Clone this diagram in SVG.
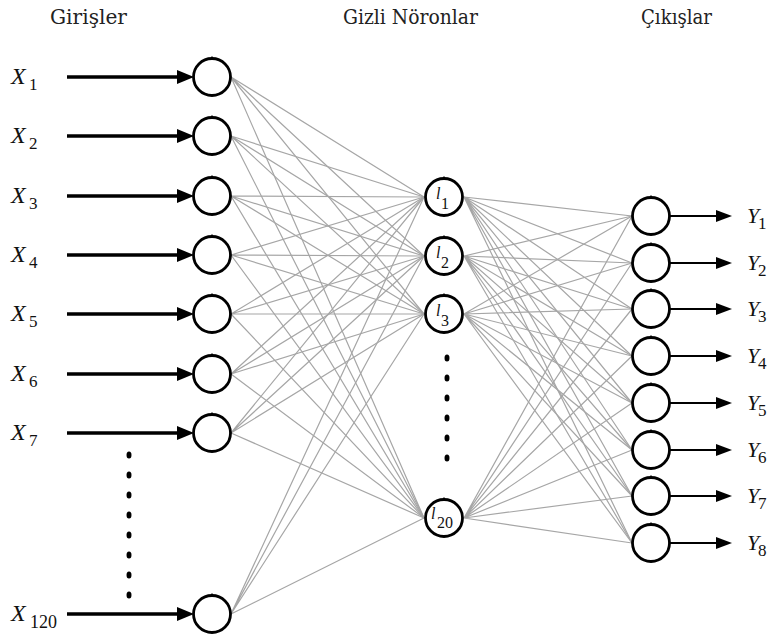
<svg xmlns="http://www.w3.org/2000/svg" width="774" height="640" viewBox="0 0 774 640">
  <style>
    text { font-family: 'Liberation Serif', 'Times New Roman', serif; fill: #111; }
    .title { font-family: 'DejaVu Serif', 'Liberation Serif', serif; font-size: 20px; fill: #222; }
    .it { font-style: italic; }
    .big { font-size: 24px; }
    .ysym { font-size: 22px; }
    .sub { font-size: 17px; }
    .hl { font-size: 16px; }
    .node { fill: #fff; stroke: #000; stroke-width: 2.8; }
    .tick { stroke: #000; stroke-width: 1.5; }
    .link { fill: none; stroke: #a6a6a6; stroke-width: 1.2; }
    .inarrow { stroke: #000; stroke-width: 3.5; marker-end: url(#headIn); }
    .outarrow { stroke: #000; stroke-width: 1.8; marker-end: url(#headOut); }
    .dot { fill: #000; }
  </style>
  <defs>
    <marker id="headIn" markerUnits="userSpaceOnUse" markerWidth="17" markerHeight="14" refX="3" refY="7" orient="auto">
      <path d="M0,0 L17,7 L0,14 z" fill="#000"/>
    </marker>
    <marker id="headOut" markerUnits="userSpaceOnUse" markerWidth="16" markerHeight="12" refX="3" refY="6" orient="auto">
      <path d="M0,0 L16,6 L0,12 z" fill="#000"/>
    </marker>
  </defs>
  <rect width="774" height="640" fill="#fff"/>

  <!-- column headings -->
  <text class="title" x="50" y="24" textLength="77" lengthAdjust="spacingAndGlyphs" style="font-family:'DejaVu Serif',serif">Girişler</text>
  <text class="title" x="343" y="24" textLength="135" lengthAdjust="spacingAndGlyphs" style="font-family:'DejaVu Serif',serif">Gizli Nöronlar</text>
  <text class="title" x="641" y="24" textLength="71" lengthAdjust="spacingAndGlyphs" style="font-family:'DejaVu Serif',serif">Çıkışlar</text>

  <!-- connectors -->
  <g id="connectors">
    <!-- input layer to hidden layer -->
    <path class="link" d="M231,77 L424,197 M231,77 L424,256 M231,77 L424,314 M231,77 L424,518"/>
    <path class="link" d="M231,136 L424,197 M231,136 L424,256 M231,136 L424,314 M231,136 L424,518"/>
    <path class="link" d="M231,196 L424,197 M231,196 L424,256 M231,196 L424,314 M231,196 L424,518"/>
    <path class="link" d="M231,255 L424,197 M231,255 L424,256 M231,255 L424,314 M231,255 L424,518"/>
    <path class="link" d="M231,314 L424,197 M231,314 L424,256 M231,314 L424,314 M231,314 L424,518"/>
    <path class="link" d="M231,374 L424,197 M231,374 L424,256 M231,374 L424,314 M231,374 L424,518"/>
    <path class="link" d="M231,433 L424,197 M231,433 L424,256 M231,433 L424,314 M231,433 L424,518"/>
    <path class="link" d="M231,614 L424,197 M231,614 L424,256 M231,614 L424,314 M231,614 L424,518"/>
    <!-- hidden layer to output layer -->
    <path class="link" d="M464,197 L632,216 M464,197 L632,263 M464,197 L632,309 M464,197 L632,356 M464,197 L632,403 M464,197 L632,450 M464,197 L632,496 M464,197 L632,543"/>
    <path class="link" d="M464,256 L632,216 M464,256 L632,263 M464,256 L632,309 M464,256 L632,356 M464,256 L632,403 M464,256 L632,450 M464,256 L632,496 M464,256 L632,543"/>
    <path class="link" d="M464,314 L632,216 M464,314 L632,263 M464,314 L632,309 M464,314 L632,356 M464,314 L632,403 M464,314 L632,450 M464,314 L632,496 M464,314 L632,543"/>
    <path class="link" d="M464,518 L632,216 M464,518 L632,263 M464,518 L632,309 M464,518 L632,356 M464,518 L632,403 M464,518 L632,450 M464,518 L632,496 M464,518 L632,543"/>
    <!-- input arrows -->
    <line class="inarrow" x1="67" y1="77" x2="180" y2="77"/>
    <line class="inarrow" x1="67" y1="136" x2="180" y2="136"/>
    <line class="inarrow" x1="67" y1="196" x2="180" y2="196"/>
    <line class="inarrow" x1="67" y1="255" x2="180" y2="255"/>
    <line class="inarrow" x1="67" y1="314" x2="180" y2="314"/>
    <line class="inarrow" x1="67" y1="374" x2="180" y2="374"/>
    <line class="inarrow" x1="67" y1="433" x2="180" y2="433"/>
    <line class="inarrow" x1="67" y1="614" x2="180" y2="614"/>
    <!-- output arrows -->
    <line class="outarrow" x1="669" y1="216" x2="719" y2="216"/>
    <line class="outarrow" x1="669" y1="263" x2="719" y2="263"/>
    <line class="outarrow" x1="669" y1="309" x2="719" y2="309"/>
    <line class="outarrow" x1="669" y1="356" x2="719" y2="356"/>
    <line class="outarrow" x1="669" y1="403" x2="719" y2="403"/>
    <line class="outarrow" x1="669" y1="450" x2="719" y2="450"/>
    <line class="outarrow" x1="669" y1="496" x2="719" y2="496"/>
    <line class="outarrow" x1="669" y1="543" x2="719" y2="543"/>
  </g>

  <!-- input labels -->
  <g id="input-labels">
    <text class="it big" x="11" y="84">X</text><text class="sub" x="29" y="90">1</text>
    <text class="it big" x="11" y="143">X</text><text class="sub" x="29" y="149">2</text>
    <text class="it big" x="11" y="203">X</text><text class="sub" x="29" y="209">3</text>
    <text class="it big" x="11" y="262">X</text><text class="sub" x="29" y="268">4</text>
    <text class="it big" x="11" y="321">X</text><text class="sub" x="29" y="327">5</text>
    <text class="it big" x="11" y="381">X</text><text class="sub" x="29" y="387">6</text>
    <text class="it big" x="11" y="440">X</text><text class="sub" x="29" y="446">7</text>
    <text class="it big" x="11" y="621">X</text><text class="sub" x="30" y="628" style="font-size:18px">120</text>
  </g>

  <!-- input nodes -->
  <g id="in1"><circle class="node" cx="212" cy="77" r="18.5"/><line class="tick" x1="212" y1="58" x2="212" y2="56.5"/></g>
  <g id="in2"><circle class="node" cx="212" cy="136" r="18.5"/><line class="tick" x1="212" y1="117" x2="212" y2="115.5"/></g>
  <g id="in3"><circle class="node" cx="212" cy="196" r="18.5"/><line class="tick" x1="212" y1="177" x2="212" y2="175.5"/></g>
  <g id="in4"><circle class="node" cx="212" cy="255" r="18.5"/><line class="tick" x1="212" y1="236" x2="212" y2="234.5"/></g>
  <g id="in5"><circle class="node" cx="212" cy="314" r="18.5"/><line class="tick" x1="212" y1="295" x2="212" y2="293.5"/></g>
  <g id="in6"><circle class="node" cx="212" cy="374" r="18.5"/><line class="tick" x1="212" y1="355" x2="212" y2="353.5"/></g>
  <g id="in7"><circle class="node" cx="212" cy="433" r="18.5"/><line class="tick" x1="212" y1="414" x2="212" y2="412.5"/></g>
  <g id="in120"><circle class="node" cx="212" cy="614" r="18.5"/><line class="tick" x1="212" y1="595" x2="212" y2="593.5"/></g>

  <!-- ellipsis between input 7 and input 120 -->
  <g id="input-ellipsis">
    <ellipse class="dot" cx="129" cy="455" rx="2.5" ry="3.5"/>
    <ellipse class="dot" cx="129" cy="475" rx="2.5" ry="3.5"/>
    <ellipse class="dot" cx="129" cy="495" rx="2.5" ry="3.5"/>
    <ellipse class="dot" cx="129" cy="515" rx="2.5" ry="3.5"/>
    <ellipse class="dot" cx="129" cy="535" rx="2.5" ry="3.5"/>
    <ellipse class="dot" cx="129" cy="555" rx="2.5" ry="3.5"/>
    <ellipse class="dot" cx="129" cy="575" rx="2.5" ry="3.5"/>
    <ellipse class="dot" cx="129" cy="595" rx="2.5" ry="3.5"/>
  </g>

  <!-- hidden neurons -->
  <g id="h1"><circle class="node" cx="444" cy="197" r="18.5"/><line class="tick" x1="444" y1="178" x2="444" y2="176.5"/>
    <text class="it hl" x="436" y="199">l</text><text class="hl" x="441" y="209">1</text></g>
  <g id="h2"><circle class="node" cx="444" cy="256" r="18.5"/><line class="tick" x1="444" y1="237" x2="444" y2="235.5"/>
    <text class="it hl" x="436" y="258">l</text><text class="hl" x="441" y="268">2</text></g>
  <g id="h3"><circle class="node" cx="444" cy="314" r="18.5"/><line class="tick" x1="444" y1="295" x2="444" y2="293.5"/>
    <text class="it hl" x="436" y="316">l</text><text class="hl" x="441" y="326">3</text></g>
  <g id="h20"><circle class="node" cx="444" cy="518" r="18.5"/><line class="tick" x1="444" y1="499" x2="444" y2="497.5"/>
    <text class="it hl" x="431" y="519">l</text><text class="hl" x="437" y="528">20</text></g>

  <!-- ellipsis between hidden 3 and hidden 20 -->
  <g id="hidden-ellipsis">
    <ellipse class="dot" cx="447" cy="358" rx="2.5" ry="3.5"/>
    <ellipse class="dot" cx="447" cy="378" rx="2.5" ry="3.5"/>
    <ellipse class="dot" cx="447" cy="398" rx="2.5" ry="3.5"/>
    <ellipse class="dot" cx="447" cy="418" rx="2.5" ry="3.5"/>
    <ellipse class="dot" cx="447" cy="438" rx="2.5" ry="3.5"/>
    <ellipse class="dot" cx="447" cy="458" rx="2.5" ry="3.5"/>
  </g>

  <!-- output nodes -->
  <g id="out1"><circle class="node" cx="651" cy="216" r="18.5"/><line class="tick" x1="651" y1="197" x2="651" y2="195.5"/></g>
  <g id="out2"><circle class="node" cx="651" cy="263" r="18.5"/><line class="tick" x1="651" y1="244" x2="651" y2="242.5"/></g>
  <g id="out3"><circle class="node" cx="651" cy="309" r="18.5"/><line class="tick" x1="651" y1="290" x2="651" y2="288.5"/></g>
  <g id="out4"><circle class="node" cx="651" cy="356" r="18.5"/><line class="tick" x1="651" y1="337" x2="651" y2="335.5"/></g>
  <g id="out5"><circle class="node" cx="651" cy="403" r="18.5"/><line class="tick" x1="651" y1="384" x2="651" y2="382.5"/></g>
  <g id="out6"><circle class="node" cx="651" cy="450" r="18.5"/><line class="tick" x1="651" y1="431" x2="651" y2="429.5"/></g>
  <g id="out7"><circle class="node" cx="651" cy="496" r="18.5"/><line class="tick" x1="651" y1="477" x2="651" y2="475.5"/></g>
  <g id="out8"><circle class="node" cx="651" cy="543" r="18.5"/><line class="tick" x1="651" y1="524" x2="651" y2="522.5"/></g>

  <!-- output labels -->
  <g id="output-labels">
    <text class="it ysym" x="747" y="223">Y</text><text class="sub" x="758" y="229">1</text>
    <text class="it ysym" x="747" y="270">Y</text><text class="sub" x="758" y="276">2</text>
    <text class="it ysym" x="747" y="316">Y</text><text class="sub" x="758" y="322">3</text>
    <text class="it ysym" x="747" y="363">Y</text><text class="sub" x="758" y="369">4</text>
    <text class="it ysym" x="747" y="410">Y</text><text class="sub" x="758" y="416">5</text>
    <text class="it ysym" x="747" y="457">Y</text><text class="sub" x="758" y="463">6</text>
    <text class="it ysym" x="747" y="503">Y</text><text class="sub" x="758" y="509">7</text>
    <text class="it ysym" x="747" y="550">Y</text><text class="sub" x="758" y="556">8</text>
  </g>
</svg>
